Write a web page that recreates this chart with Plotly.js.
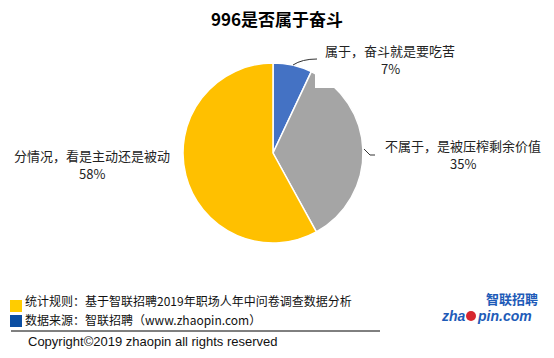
<!DOCTYPE html>
<html><head><meta charset="utf-8">
<script src="https://cdn.plot.ly/plotly-3.0.1.min.js"></script>
<style>body{margin:0;padding:0;background:#fff}#c{width:554px;height:358px}</style>
</head><body><div id="c"></div>
<script>
const categories = ["属于，奋斗就是要吃苦", "不属于，是被压榨剩余价值", "分情况，看是主动还是被动"];
const values = [7, 35, 58];
const colors = ["#4472C4", "#A5A5A5", "#FFC000"];
const titleText = "996是否属于奋斗";
const noteLines = ["统计规则：基于智联招聘2019年职场人年中问卷调查数据分析", "数据来源：智联招聘（www.zhaopin.com）"];
const copyright = "Copyright©2019 zhaopin all rights reserved";

const W = 554, H = 358;
const px = x => x / W, py = y => 1 - y / H;
const F = '"Microsoft YaHei","Noto Sans CJK SC","Liberation Sans",sans-serif';

const labelPos = [[390, 59], [463, 154], [92, 164]];
const annotations = [];
categories.forEach((c, i) => {
  annotations.push({
    xref: 'paper', yref: 'paper', x: px(labelPos[i][0]), y: py(labelPos[i][1] - 9),
    text: c, showarrow: false, xanchor: 'center', yanchor: 'middle', borderpad: 0,
    font: {family: F, size: 13, color: '#222'}
  });
  annotations.push({
    xref: 'paper', yref: 'paper', x: px(labelPos[i][0]), y: py(labelPos[i][1] + 9),
    text: values[i] + '%', showarrow: false, xanchor: 'center', yanchor: 'middle', borderpad: 0,
    font: {family: F, size: 13, color: '#222'}
  });
});
noteLines.forEach((t, i) => annotations.push({
  xref: 'paper', yref: 'paper', x: px(24), y: py(300 + i * 19), text: t, showarrow: false,
  xanchor: 'left', yanchor: 'middle', borderpad: 0, font: {family: F, size: 12, color: '#111'}
}));
annotations.push({xref: 'paper', yref: 'paper', x: px(27), y: py(341), text: copyright, showarrow: false,
  xanchor: 'left', yanchor: 'middle', borderpad: 0, font: {family: '"Liberation Sans",Arial,sans-serif', size: 13, color: '#111'}});
annotations.push({xref: 'paper', yref: 'paper', x: px(277), y: py(18), text: '<b>' + titleText + '</b>', showarrow: false,
  xanchor: 'center', yanchor: 'middle', font: {family: F, size: 17, color: '#000'}});
// logo
annotations.push({xref: 'paper', yref: 'paper', x: px(539), y: py(298), text: '<b>智联招聘</b>', showarrow: false,
  xanchor: 'right', yanchor: 'middle', borderpad: 0, font: {family: F, size: 13, color: '#1E5BB8'}});
annotations.push({xref: 'paper', yref: 'paper', x: px(467), y: py(316), text: '<b><i>zha</i></b>', showarrow: false,
  xanchor: 'right', yanchor: 'middle', borderpad: 0, font: {family: '"Liberation Sans",Arial,sans-serif', size: 14, color: '#1E5BB8'}});
annotations.push({xref: 'paper', yref: 'paper', x: px(476), y: py(316), text: '<b><i>pin.com</i></b>', showarrow: false,
  xanchor: 'left', yanchor: 'middle', borderpad: 0, font: {family: '"Liberation Sans",Arial,sans-serif', size: 14, color: '#1E5BB8'}});

const shapes = [
  {type: 'rect', xref: 'paper', yref: 'paper', x0: px(315), x1: px(460), y0: py(88), y1: py(40), fillcolor: '#fff', line: {width: 0}, layer: 'above'},
  {type: 'path', xref: 'paper', yref: 'paper', path: `M ${px(293)} ${py(65)} Q ${px(302)} ${py(59)} ${px(317)} ${py(59)}`, line: {color: '#333', width: 1}},
  {type: 'path', xref: 'paper', yref: 'paper', path: `M ${px(364)} ${py(149)} L ${px(370)} ${py(155)} L ${px(375)} ${py(155)}`, line: {color: '#333', width: 1}},
  {type: 'rect', xref: 'paper', yref: 'paper', x0: px(10), x1: px(22), y0: py(312), y1: py(300), fillcolor: '#FFCC00', line: {width: 0}},
  {type: 'rect', xref: 'paper', yref: 'paper', x0: px(10), x1: px(22), y0: py(327), y1: py(315), fillcolor: '#0B4EA2', line: {width: 0}},
  {type: 'line', xref: 'paper', yref: 'paper', x0: px(11), x1: px(380), y0: py(331), y1: py(331), line: {color: '#000', width: 1}},
  {type: 'circle', xref: 'paper', yref: 'paper', x0: px(466), x1: px(476), y0: py(321), y1: py(311), fillcolor: '#D7262E', line: {width: 0}}
];

const data = [{
  type: 'pie', labels: categories, values: values, sort: false, direction: 'clockwise', rotation: 0,
  marker: {colors: colors, line: {color: '#fff', width: 1.5}}, textinfo: 'none', hoverinfo: 'none',
  domain: {x: [px(183), px(363)], y: [py(243), py(63)]}, showlegend: false
}];
const layout = {width: W, height: H, margin: {l: 0, r: 0, t: 0, b: 0}, paper_bgcolor: '#fff',
  showlegend: false, annotations: annotations, shapes: shapes};
Plotly.newPlot('c', data, layout, {displayModeBar: false, staticPlot: true});
</script></body></html>
